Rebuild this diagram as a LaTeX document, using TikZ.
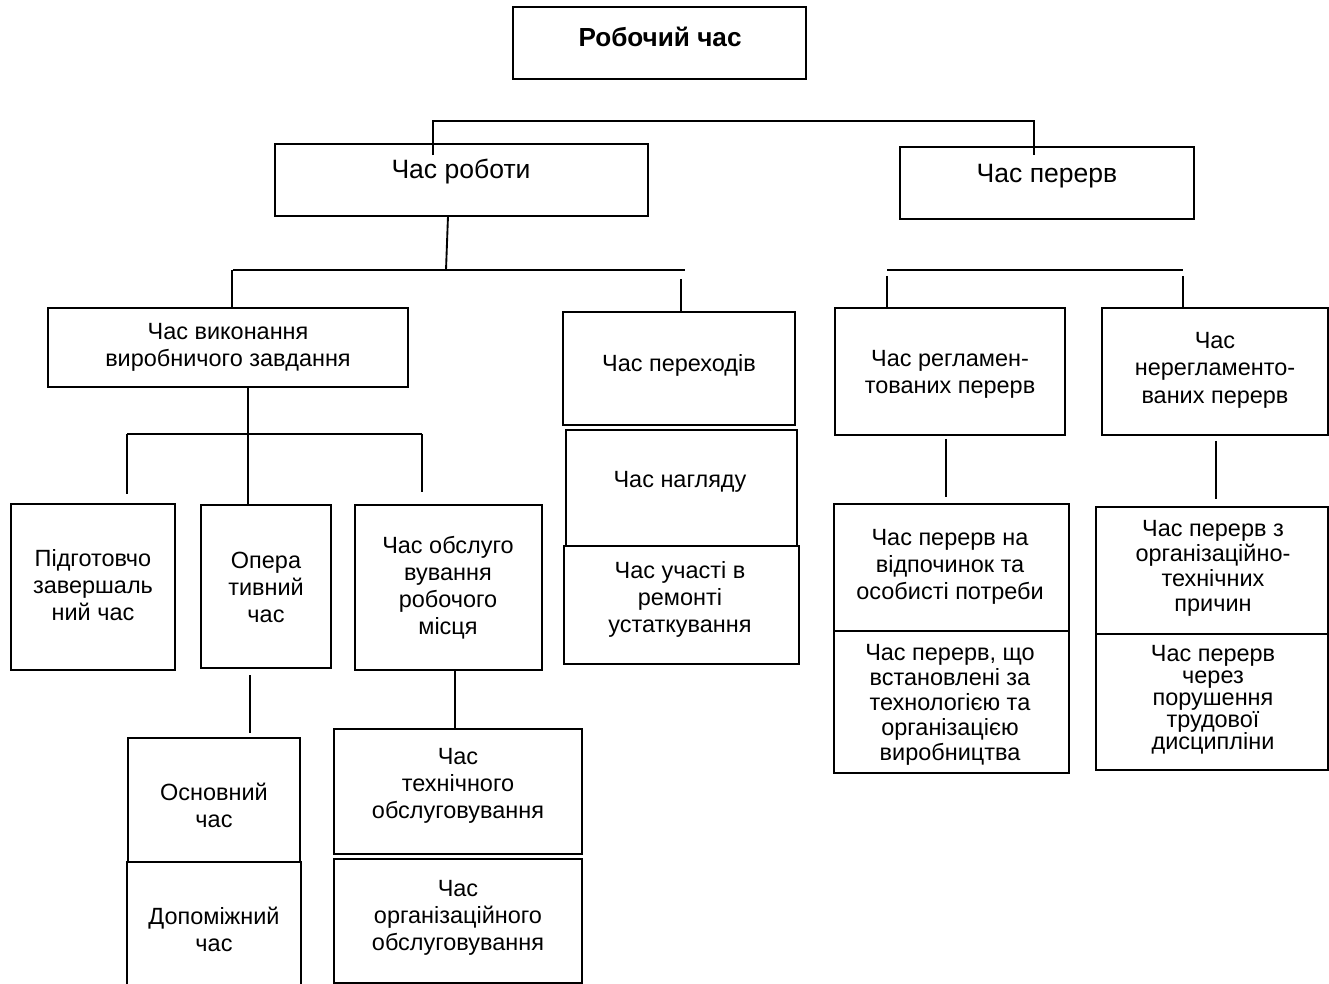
\documentclass[tikz,border=0pt]{standalone}
\usepackage{fontspec}
\setmainfont{Liberation Sans}
\begin{document}
\begin{tikzpicture}[x=0.75pt,y=-0.75pt,
  box/.style={draw,line width=1.4pt,inner sep=0pt},
  lbl/.style={inner sep=0pt,align=center,font=\fontsize{17.6pt}{20.3pt}\selectfont},
  big/.style={inner sep=0pt,align=center,font=\fontsize{19.9pt}{22pt}\selectfont},
  wire/.style={line width=1.4pt},
  bus/.style={line width=2pt}]
\useasboundingbox (0,0) rectangle (1329,984);
\clip (0,0) rectangle (1329,984);

% box from corner (x1,y1) to corner (x2,y2), in pixels
\newcommand\boxat[5]{%
  \pgfmathsetmacro\bw{(#4-#2)*0.75}%
  \pgfmathsetmacro\bh{(#5-#3)*0.75}%
  \node[box,minimum width=\bw pt,minimum height=\bh pt] (#1) at ({(#2+#4)/2},{(#3+#5)/2}) {};}

% ---- boxes ----
\boxat{top}{513}{7}{806}{79}
\boxat{work}{275}{144}{648}{216}
\boxat{brk}{900}{147}{1194}{219}
\boxat{task}{48}{308}{408}{387}
\boxat{trans}{563}{312}{795}{425}
\boxat{watch}{566}{430}{797}{546}
\boxat{repair}{564}{546}{799}{664}
\boxat{reg}{835}{308}{1065}{435}
\boxat{unreg}{1102}{308}{1328}{435}
\boxat{prep}{11}{504}{175}{670}
\boxat{oper}{201}{505}{331}{668}
\boxat{serv}{355}{505}{542}{670}
\boxat{main}{128}{738}{300}{862}
\boxat{tech}{334}{729}{582}{854}
\boxat{org}{334}{859}{582}{983}
\boxat{rest}{834}{504}{1069}{631}
\boxat{techn}{834}{631}{1069}{773}
\boxat{orgt}{1096}{507}{1328}{634}
\boxat{disc}{1096}{634}{1328}{770}
% open-bottom box running off the lower edge
\coordinate (aux-nw) at (127,862);
\coordinate (aux-ne) at (301,862);
\coordinate (aux-sw) at (127,1000);
\coordinate (aux-se) at (301,1000);
\draw[line width=1.4pt] (aux-sw) -- (aux-nw) -- (aux-ne) -- (aux-se);

% ---- texts ----
\node[inner sep=0pt,font=\fontsize{19.6pt}{22pt}\selectfont\bfseries] (top-t) at (660,37) {Робочий час};
\node[big] (work-t) at (461,172) {Час роботи};
\node[big] (brk-t) at (1047,176) {Час перерв};
\node[lbl] (task-t) at (228,347) {Час виконання\\виробничого завдання};
\node[lbl] (trans-t) at (679,365) {Час переходів};
\node[lbl] (reg-t) at (950,374) {Час регламен-\\тованих перерв};
\node[lbl,font=\fontsize{17.6pt}{20.6pt}\selectfont] (unreg-t) at (1215,370) {Час\\нерегламенто-\\ваних перерв};
\node[lbl] (prep-t) at (93,585) {Підготовчо\\завершаль\\ний час};
\node[lbl] (oper-t) at (266,587) {Опера\\тивний\\час};
\node[lbl] (serv-t) at (448,588) {Час обслуго\\вування\\робочого\\місця};
\node[lbl] (watch-t) at (680,482) {Час нагляду};
\node[lbl] (repair-t) at (680,599) {Час участі в\\ремонті\\устаткування};
\node[lbl] (main-t) at (214,805) {Основний\\час};
\node[lbl] (aux-t) at (214,929) {Допоміжний\\час};
\node[lbl] (tech-t) at (458,786) {Час\\технічного\\обслуговування};
\node[lbl] (org-t) at (458,918) {Час\\організаційного\\обслуговування};
\node[lbl] (rest-t) at (950,567) {Час перерв на\\відпочинок та\\особисті потреби};
\node[lbl,font=\fontsize{17.6pt}{18.8pt}\selectfont] (techn-t) at (950,705) {Час перерв, що\\встановлені за\\технологією та\\організацією\\виробництва};
\node[lbl,font=\fontsize{17.6pt}{18.8pt}\selectfont] (orgt-t) at (1213,568) {Час перерв з\\організаційно-\\технічних\\причин};
\node[lbl,font=\fontsize{17.6pt}{16.5pt}\selectfont] (disc-t) at (1213,700) {Час перерв\\через\\порушення\\трудової\\дисципліни};

% ---- connectors ----
% upper bus
\coordinate (b1l) at (433,121);
\coordinate (b1r) at (1034,121);
\draw[wire] (work.north -| b1l) ++(0,12) -- (b1l) -- (b1r) -- ([yshift=-9*0.75pt]brk.north -| b1r);

% bus under "Час роботи"
\coordinate (w-in) at (448,216);
\coordinate (w-out) at (446,270);
\coordinate (b2l) at (233,270);
\coordinate (b2r) at (685,270);
\draw[wire] (w-in) -- (w-out);
\draw[bus] (b2l) -- (b2r);
\coordinate (b2a) at (232,270);
\coordinate (b2b) at (681,279);
\draw[wire] (b2a) -- (task.north -| b2a);
\draw[wire] (b2b) -- (trans.north -| b2b);

% bus above the two kinds of breaks
\coordinate (b3l) at (887,270);
\coordinate (b3r) at (1183,270);
\draw[wire] (b3l) -- (b3r);
\coordinate (b3a) at (887,276);
\coordinate (b3b) at (1183,276);
\draw[wire] (b3a) -- (reg.north -| b3a);
\draw[wire] (b3b) -- (unreg.north -| b3b);

% bus under "Час виконання виробничого завдання"
\coordinate (t-out) at (248,387);
\coordinate (b4l) at (127,434);
\coordinate (b4r) at (422,434);
\draw[wire] (t-out) -- (oper.north -| t-out);
\draw[wire] (b4l) -- (b4r);
\draw[wire] (b4l) -- (127,494);
\draw[wire] (b4r) -- (422,492);

% short drops
\coordinate (o1) at (250,675);
\coordinate (o2) at (250,733);
\draw[wire] (o1) -- (o2);
\coordinate (s1) at (455,670);
\draw[wire] (serv.south -| s1) -- (tech.north -| s1);
\coordinate (r1) at (946,439);
\coordinate (r2) at (946,497);
\draw[wire] (r1) -- (r2);
\coordinate (u1) at (1216,441);
\coordinate (u2) at (1216,499);
\draw[wire] (u1) -- (u2);
\end{tikzpicture}
\end{document}
